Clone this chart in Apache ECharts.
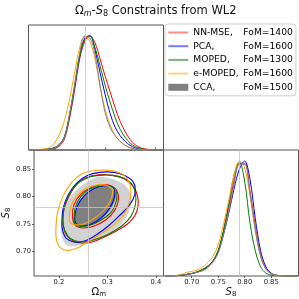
<!DOCTYPE html>
<html><head><meta charset="utf-8">
<script src="https://cdn.jsdelivr.net/npm/echarts@6/dist/echarts.min.js"></script>
<style>html,body{margin:0;padding:0;background:#fff}#c{width:299px;height:299px}</style>
</head><body><div id="c"></div>
<script>
// ---------- data ----------
const methods = ['NN-MSE', 'PCA', 'MOPED', 'e-MOPED', 'CCA'];
const foms = [1400, 1600, 1300, 1600, 1500];
const lineColors = ['#ff0000', '#0000ff', '#008000', '#ffa500', '#808080'];
const legendColors = ['#ff8a8a', '#7a7aff', '#72b872', '#ffd48a', '#808080'];

const omRef = 0.26;       // vertical reference line (Omega_m)
const s8Ref2D = 0.782;    // horizontal reference line in 2D panel
const s8Ref1D = 0.788;    // vertical reference line in S8 panel

const omTicks = [0.2, 0.3, 0.4];
const s8Ticks = [0.70, 0.75, 0.80, 0.85];

const omGrid = [0.15,0.16,0.17,0.18,0.19,0.20,0.21,0.22,0.23,0.24,0.25,0.26,0.27,0.28,0.29,0.30,0.31,0.32,0.33,0.34,0.35,0.36,0.37,0.38,0.39,0.40,0.41];
const pdfOmNN    = [0,0,0.001,0.003,0.006,0.012,0.035,0.1,0.28,0.53,0.8,0.95,1.0,0.94,0.8,0.65,0.51,0.37,0.25,0.16,0.09,0.045,0.02,0.009,0.004,0.001,0];
const pdfOmPCA   = [0,0,0.002,0.005,0.01,0.02,0.05,0.12,0.31,0.56,0.83,0.98,1.0,0.88,0.68,0.49,0.32,0.2,0.125,0.075,0.04,0.018,0.007,0.002,0,0,0];
const pdfOmMOPED = [0,0,0.002,0.005,0.01,0.02,0.05,0.12,0.31,0.56,0.82,0.97,1.0,0.9,0.74,0.57,0.42,0.285,0.18,0.11,0.06,0.03,0.012,0.005,0.002,0,0];
const pdfOmEMOPED= [0,0.002,0.005,0.01,0.02,0.06,0.14,0.26,0.45,0.68,0.9,1.0,0.95,0.8,0.56,0.36,0.22,0.13,0.075,0.04,0.018,0.007,0.002,0,0,0,0];
const pdfOmCCA   = [0,0,0.002,0.004,0.008,0.015,0.045,0.12,0.32,0.58,0.85,0.99,0.98,0.84,0.57,0.33,0.2,0.125,0.075,0.04,0.02,0.008,0.003,0,0,0,0];

const s8Grid = [0.65,0.66,0.67,0.68,0.69,0.70,0.71,0.72,0.73,0.74,0.75,0.76,0.77,0.78,0.79,0.80,0.81,0.82,0.83,0.84,0.85,0.86,0.87,0.88,0.89,0.90];
const pdfS8NN    = [0,0.001,0.003,0.006,0.012,0.02,0.032,0.05,0.08,0.13,0.22,0.39,0.6,0.83,0.98,0.98,0.74,0.43,0.18,0.065,0.02,0.006,0.002,0,0,0];
const pdfS8PCA   = [0,0.001,0.003,0.007,0.013,0.022,0.035,0.055,0.085,0.13,0.21,0.36,0.55,0.76,0.93,1.0,0.84,0.5,0.22,0.08,0.025,0.007,0.002,0,0,0];
const pdfS8MOPED = [0,0.001,0.003,0.007,0.013,0.022,0.035,0.055,0.085,0.13,0.22,0.4,0.63,0.88,0.99,0.82,0.46,0.22,0.08,0.025,0.008,0.002,0,0,0,0];
const pdfS8EMOPED= [0,0.002,0.005,0.012,0.03,0.04,0.05,0.075,0.115,0.17,0.27,0.45,0.66,0.88,1.0,0.94,0.7,0.4,0.17,0.06,0.02,0.006,0.002,0,0,0];
const pdfS8CCA   = [0,0.002,0.004,0.008,0.014,0.022,0.032,0.045,0.07,0.12,0.2,0.36,0.56,0.8,0.97,0.97,0.72,0.4,0.17,0.06,0.02,0.006,0.002,0,0,0];

// 2D contours: [Omega_m, S8] points (outer = 95%, inner = 68%)
const outNN = [[0.209,0.7453],[0.2095,0.7727],[0.2192,0.7970],[0.2344,0.8195],[0.2542,0.8335],[0.2806,0.8396],[0.3103,0.8384],[0.3354,0.8317],[0.3532,0.8183],[0.3624,0.8001],[0.3631,0.7818],[0.3565,0.7648],[0.3420,0.7502],[0.3202,0.7380],[0.2938,0.7259],[0.2707,0.7173],[0.2509,0.7149],[0.2311,0.7179],[0.2166,0.7283]];
const inNN  = [[0.2278,0.7636],[0.2311,0.7849],[0.2443,0.8031],[0.2641,0.8153],[0.2872,0.8213],[0.3070,0.8195],[0.3202,0.8092],[0.3222,0.7909],[0.3136,0.7727],[0.2971,0.7575],[0.2740,0.7465],[0.2509,0.7423],[0.2344,0.7465]];
const outPCA = [[0.2060,0.7484],[0.2086,0.7788],[0.2192,0.8031],[0.2364,0.8244],[0.2575,0.8378],[0.2839,0.8439],[0.3136,0.8439],[0.3367,0.8378],[0.3525,0.8274],[0.3578,0.8122],[0.3532,0.7952],[0.3420,0.7806],[0.3248,0.7648],[0.3024,0.7465],[0.2773,0.7301],[0.2542,0.7192],[0.2311,0.7167],[0.2146,0.7240],[0.2080,0.7362]];
const inPCA  = [[0.2324,0.7605],[0.2377,0.7818],[0.2509,0.8001],[0.2707,0.8135],[0.2938,0.8195],[0.3103,0.8171],[0.3156,0.8061],[0.3103,0.7879],[0.2971,0.7696],[0.2773,0.7544],[0.2542,0.7465],[0.2377,0.7484]];
const outMOPED = [[0.2086,0.7484],[0.2100,0.7757],[0.2192,0.8001],[0.2377,0.8232],[0.2608,0.8347],[0.2839,0.8384],[0.3103,0.8384],[0.3334,0.8335],[0.3499,0.8232],[0.3578,0.8061],[0.3578,0.7849],[0.3486,0.7636],[0.3301,0.7465],[0.3037,0.7319],[0.2773,0.7222],[0.2542,0.7173],[0.2324,0.7192],[0.2179,0.7283]];
const inMOPED  = [[0.2311,0.7605],[0.2344,0.7818],[0.2456,0.8001],[0.2641,0.8135],[0.2872,0.8195],[0.3070,0.8183],[0.3182,0.8092],[0.3182,0.7909],[0.3090,0.7727],[0.2905,0.7587],[0.2674,0.7484],[0.2456,0.7453],[0.2331,0.7496]];
const outEMOPED = [[0.1935,0.7362],[0.1968,0.7696],[0.2080,0.8001],[0.2278,0.8274],[0.2509,0.8426],[0.2773,0.8475],[0.3037,0.8475],[0.3288,0.8414],[0.3433,0.8293],[0.3486,0.8092],[0.3446,0.7879],[0.3334,0.7666],[0.3136,0.7484],[0.2872,0.7319],[0.2608,0.7179],[0.2377,0.7058],[0.2179,0.7015],[0.2014,0.7076],[0.1948,0.7210]];
const inEMOPED  = [[0.2212,0.7605],[0.2245,0.7818],[0.2377,0.8013],[0.2575,0.8153],[0.2806,0.8213],[0.3004,0.8195],[0.3103,0.8110],[0.3070,0.7940],[0.2938,0.7757],[0.2740,0.7605],[0.2509,0.7496],[0.2311,0.7484],[0.2225,0.7526]];
const outCCA = [[0.284,0.836],[0.3236,0.8274],[0.3446,0.8122],[0.350,0.7909],[0.340,0.7635],[0.3236,0.7453],[0.297,0.727],[0.2642,0.716],[0.2376,0.71],[0.2178,0.71],[0.208,0.721],[0.2045,0.7453],[0.2113,0.7757],[0.2245,0.80],[0.2444,0.8182],[0.2642,0.8292]];
const inCCA  = [[0.297,0.8195],[0.3168,0.8062],[0.3137,0.788],[0.3004,0.7697],[0.2806,0.7544],[0.2574,0.7453],[0.241,0.7453],[0.2325,0.7544],[0.2345,0.7757],[0.2444,0.794],[0.2608,0.809],[0.2772,0.817]];

// ---------- build chart ----------
const pdfOm = [pdfOmNN, pdfOmPCA, pdfOmMOPED, pdfOmEMOPED, pdfOmCCA];
const pdfS8 = [pdfS8NN, pdfS8PCA, pdfS8MOPED, pdfS8EMOPED, pdfS8CCA];
const outer = [outNN, outPCA, outMOPED, outEMOPED];
const inner = [inNN, inPCA, inMOPED, inEMOPED];

const FF = 'DejaVu Sans';
const zip = (xs, ys) => xs.map((x, i) => [x, ys[i]]);

function contour(name, pts, style, z) {
  return {
    type: 'custom', name, xAxisIndex: 1, yAxisIndex: 1, silent: true, z: z,
    data: [[pts[0][0], pts[0][1]]],
    renderItem: (params, api) => ({
      type: 'polygon',
      shape: { points: pts.map(p => api.coord(p)), smooth: 0.35 },
      style: style
    })
  };
}

const series = [];
const refStyle = { color: '#c4c4c4', width: 0.8, type: 'solid' };
series.push({ type: 'line', xAxisIndex: 0, yAxisIndex: 0, data: [], silent: true, z: 1,
  markLine: { symbol: 'none', silent: true, label: { show: false }, lineStyle: refStyle, data: [{ xAxis: omRef }] } });
series.push({ type: 'line', xAxisIndex: 1, yAxisIndex: 1, data: [], silent: true, z: 1,
  markLine: { symbol: 'none', silent: true, label: { show: false }, lineStyle: refStyle, data: [{ xAxis: omRef }, { yAxis: s8Ref2D }] } });
series.push({ type: 'line', xAxisIndex: 2, yAxisIndex: 2, data: [], silent: true, z: 1,
  markLine: { symbol: 'none', silent: true, label: { show: false }, lineStyle: refStyle, data: [{ xAxis: s8Ref1D }] } });

series.push(contour('CCA', outCCA, { fill: '#d2d2d2', stroke: null }, 0));
series.push(contour('CCA', inCCA, { fill: '#808080', stroke: null }, 0));
for (let i = 0; i < 4; i++) {
  series.push(contour(methods[i], outer[i], { fill: 'none', stroke: lineColors[i], lineWidth: 1.1 }, 3));
  series.push(contour(methods[i], inner[i], { fill: 'none', stroke: lineColors[i], lineWidth: 1.1 }, 3));
}
for (let i = 0; i < 5; i++) {
  const common = { type: 'line', name: methods[i], smooth: 0.35, symbol: 'none', showSymbol: false, silent: true,
    lineStyle: { color: lineColors[i], width: 1 }, itemStyle: { color: lineColors[i] }, z: 3 };
  series.push(Object.assign({}, common, { xAxisIndex: 0, yAxisIndex: 0, data: zip(omGrid, pdfOm[i]) }));
  series.push(Object.assign({}, common, { xAxisIndex: 2, yAxisIndex: 2, data: zip(s8Grid, pdfS8[i]) }));
}

const gridBase = { show: true, borderColor: '#555', borderWidth: 1, backgroundColor: 'transparent', containLabel: false };
const lab = { color: '#222', fontSize: 6.8, fontFamily: FF };
const nameRich = {
  a: { fontSize: 10, fontFamily: FF, color: '#111', lineHeight: 12, fontWeight: 'normal' },
  i: { fontSize: 10, fontFamily: FF, color: '#111', fontStyle: 'italic', lineHeight: 12, fontWeight: 'normal' },
  s: { fontSize: 7, fontFamily: FF, color: '#111', lineHeight: 7, verticalAlign: 'bottom', fontWeight: 'normal' },
  si: { fontSize: 7, fontFamily: FF, color: '#111', lineHeight: 7, verticalAlign: 'bottom', fontStyle: 'italic', fontWeight: 'normal' }
};

const option = {
  animation: false,
  textStyle: { fontFamily: FF },
  title: {
    text: '{a|Ω}{si|m}{a|-}{i|S}{s|8}{a| Constraints from WL2}',
    left: 75, top: 4, padding: 0,
    textStyle: {
      fontWeight: 'normal', fontFamily: FF, fontSize: 11.5, color: '#111',
      rich: {
        a: { fontSize: 11.5, fontFamily: FF, color: '#111', lineHeight: 14, fontWeight: 'normal' },
        i: { fontSize: 11.5, fontFamily: FF, color: '#111', fontStyle: 'italic', lineHeight: 14, fontWeight: 'normal' },
        s: { fontSize: 8, fontFamily: FF, color: '#111', lineHeight: 9, verticalAlign: 'bottom', fontWeight: 'normal' },
        si: { fontSize: 8, fontFamily: FF, color: '#111', lineHeight: 9, verticalAlign: 'bottom', fontStyle: 'italic', fontWeight: 'normal' }
      }
    }
  },
  legend: {
    orient: 'vertical', left: 165, top: 24,
    itemWidth: 20, itemHeight: 10, itemGap: 3.7, itemTextGap: 6.5,
    padding: [3.5, 3, 3.5, 3.3],
    borderColor: '#d0d0d0', borderWidth: 1, borderRadius: 3, backgroundColor: '#fff',
    selectedMode: false,
    data: methods.map((m, i) => ({
      name: m,
      icon: i === 4 ? 'path://M0,0M20,10M0,1.5L20,1.5L20,8.5L0,8.5Z' : 'path://M0,0M20,10M0,4L20,4L20,6L0,6Z',
      itemStyle: { color: legendColors[i], borderWidth: 0, opacity: 1 }
    })),
    formatter: name => '{n|' + name + ',}{f|FoM=' + foms[methods.indexOf(name)] + '}',
    textStyle: {
      fontFamily: FF, fontSize: 9.2, color: '#000', lineHeight: 10,
      rich: {
        n: { width: 50, fontFamily: FF, fontSize: 9.2, color: '#000', lineHeight: 10 },
        f: { fontFamily: FF, fontSize: 9.2, color: '#000', lineHeight: 10 }
      }
    }
  },
  grid: [
    Object.assign({ left: 28.5, top: 25, width: 135, height: 125 }, gridBase),
    Object.assign({ left: 28.5, top: 150, width: 135, height: 126 }, gridBase),
    Object.assign({ left: 163.5, top: 150, width: 135, height: 126 }, gridBase)
  ],
  xAxis: [
    { type: 'value', gridIndex: 0, min: 0.1485, max: 0.4158,
      axisLine: { show: false }, splitLine: { show: false },
      axisTick: { show: true, inside: true, length: 2.5, customValues: omTicks, lineStyle: { color: '#555' } },
      axisLabel: { show: false } },
    { type: 'value', gridIndex: 1, min: 0.1485, max: 0.4158,
      axisLine: { show: false }, splitLine: { show: false },
      axisTick: { show: true, length: 2, customValues: omTicks, lineStyle: { color: '#555' } },
      axisLabel: Object.assign({ margin: 3, customValues: omTicks, formatter: v => v.toFixed(1) }, lab),
      name: '{a|Ω}{s|m}', nameLocation: 'middle', nameGap: 10,
      nameTextStyle: { fontFamily: FF, fontSize: 10, fontWeight: 'normal', rich: nameRich } },
    { type: 'value', gridIndex: 2, min: 0.6468, max: 0.9015,
      axisLine: { show: false }, splitLine: { show: false },
      axisTick: { show: true, length: 2, customValues: s8Ticks, lineStyle: { color: '#555' } },
      axisLabel: Object.assign({ margin: 3, customValues: s8Ticks, formatter: v => v.toFixed(2) }, lab),
      name: '{i|S}{s|8}', nameLocation: 'middle', nameGap: 10,
      nameTextStyle: { fontFamily: FF, fontSize: 10, fontWeight: 'normal', rich: nameRich } }
  ],
  yAxis: [
    { type: 'value', gridIndex: 0, min: 0, max: 1.094, show: false },
    { type: 'value', gridIndex: 1, min: 0.6548, max: 0.8847,
      axisLine: { show: false }, splitLine: { show: false },
      axisTick: { show: true, length: 2, customValues: s8Ticks, lineStyle: { color: '#555' } },
      axisLabel: Object.assign({ margin: 3, customValues: s8Ticks, formatter: v => v.toFixed(2) }, lab),
      name: '{i|S}{s|8}', nameLocation: 'middle', nameGap: 15, nameRotate: 90,
      nameTextStyle: { fontFamily: FF, fontSize: 10, fontWeight: 'normal', rich: nameRich } },
    { type: 'value', gridIndex: 2, min: 0, max: 1.096, show: false }
  ],
  series: series
};

const chart = echarts.init(document.getElementById('c'), null, { renderer: 'canvas' });
chart.setOption(option);
</script>
</body></html>
